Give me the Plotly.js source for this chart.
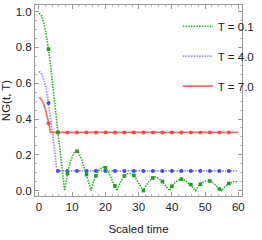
<!DOCTYPE html>
<html><head><meta charset="utf-8">
<script src="https://cdn.plot.ly/plotly-3.0.1.min.js"></script>
<style>html,body{margin:0;padding:0;background:#fff}#chart{width:262px;height:240px}</style>
</head><body><div id="chart"></div>
<script>
// Series names
const seriesNames = ["T = 0.1", "T = 4.0", "T = 7.0"];

// T = 0.1 curve
const greenT = [0,0.5,1,1.5,2,2.5,3,3.5,4,4.5,5,5.5,6,6.5,7,7.7,8,8.5,9,9.5,10,10.5,11,11.5,12,12.5,13,13.5,14,14.5,15,15.7,16,17,18,19,19.7,20,21,22,23,23.5,24,25,26,27,28,29,30,31,31.4,32,33,34,35,36,37,38,39,39.3,40,41,42,43,44,45,46,47,47.1,48,49,50,51,52,53,54,54.9,55,56,57,58,59,60];
const greenV = [0.99,0.985,0.97,0.935,0.89,0.835,0.77,0.70,0.61,0.53,0.445,0.36,0.275,0.19,0.11,0.0,0.03,0.09,0.13,0.165,0.19,0.21,0.218,0.22,0.21,0.19,0.165,0.135,0.105,0.07,0.04,0.0,0.025,0.078,0.114,0.13,0.132,0.128,0.10,0.062,0.02,0.0,0.026,0.064,0.088,0.097,0.092,0.072,0.042,0.01,0.0,0.022,0.05,0.068,0.075,0.07,0.054,0.03,0.006,0.0,0.024,0.046,0.06,0.064,0.058,0.042,0.022,0.002,0.0,0.026,0.043,0.053,0.056,0.05,0.034,0.014,0.0,0.003,0.024,0.038,0.047,0.05,0.049];

// T = 4.0 curve
const blueT = [0,0.5,1,1.5,2,2.5,3,3.5,4,4.5,5,5.4,60];
const blueV = [0.665,0.66,0.645,0.62,0.585,0.535,0.475,0.405,0.33,0.255,0.175,0.11,0.11];

// T = 7.0 curve
const redT = [0,0.5,1,1.5,2,2.5,3,3.45,60];
const redV = [0.52,0.515,0.5,0.48,0.45,0.415,0.37,0.325,0.325];

// Marker positions and values
const markT = [2.86,5.71,8.57,11.43,14.29,17.14,20.0,22.86,25.71,28.57,31.43,34.29,37.14,40.0,42.86,45.71,48.57,51.43,54.29,57.14];
const markGreen = [0.79,0.325,0.095,0.22,0.09,0.083,0.128,0.026,0.082,0.085,0.0,0.071,0.051,0.024,0.064,0.034,0.036,0.054,0.009,0.04];
const markBlue = [0.49,0.11,0.11,0.11,0.11,0.11,0.11,0.11,0.11,0.11,0.11,0.11,0.11,0.11,0.11,0.11,0.11,0.11,0.11,0.11];
const markRed = [0.376,0.325,0.325,0.325,0.325,0.325,0.325,0.325,0.325,0.325,0.325,0.325,0.325,0.325,0.325,0.325,0.325,0.325,0.325,0.325];

// Axis ticks
const xTicks = [0,10,20,30,40,50,60];
const yTicks = [0.0,0.2,0.4,0.6,0.8,1.0];
const yTickText = ["0.0","0.2","0.4","0.6","0.8","1.0"];

const cG = "rgb(40,180,40)", cB = "rgba(100,100,255,0.7)", cR = "rgba(255,70,70,0.8)";
const traces = [
  {x: blueT, y: blueV, mode: "lines", name: seriesNames[1], legendgroup: "b", legendrank: 2,
   line: {color: cB, width: 1.8, dash: "1.5px,1.2px"}},
  {x: markT, y: markBlue, mode: "markers", showlegend: false, legendgroup: "b",
   marker: {color: "rgb(70,70,255)", size: 4, symbol: "circle"}},
  {x: redT, y: redV, mode: "lines", name: seriesNames[2], legendgroup: "r", legendrank: 3,
   line: {color: cR, width: 1.7}},
  {x: markT, y: markRed, mode: "markers", showlegend: false, legendgroup: "r",
   marker: {color: "rgb(255,70,70)", size: 4, symbol: "circle"}},
  {x: greenT, y: greenV, mode: "lines", name: seriesNames[0], legendgroup: "g", legendrank: 1,
   line: {color: cG, width: 1.6, dash: "1.5px,1.2px"}},
  {x: markT, y: markGreen, mode: "markers", showlegend: false, legendgroup: "g",
   marker: {color: "rgb(30,160,30)", size: 3.6, symbol: "square"}}
];

const font = {family: "Liberation Sans, Arial, sans-serif", size: 11.5, color: "#222"};
const layout = {
  width: 262, height: 240,
  margin: {l: 35, r: 3, t: 5, b: 44},
  paper_bgcolor: "#fff", plot_bgcolor: "#fff",
  font: font,
  showlegend: true,
  legend: {x: 0.69, y: 0.965, xanchor: "left", yanchor: "top", bgcolor: "rgba(0,0,0,0)",
           font: font, tracegroupgap: 11, itemwidth: 30},
  xaxis: {range: [-1.2, 61.1], tickvals: xTicks, ticks: "inside", ticklen: 4, tickcolor: "#999",
          showline: true, linecolor: "#999", linewidth: 1, mirror: "ticks", showgrid: false, zeroline: false,
          minor: {dtick: 2, tick0: 0, ticks: "inside", ticklen: 2, tickcolor: "#bbb", showgrid: false},
          title: {text: "Scaled time", font: font, standoff: 13}, tickfont: font},
  yaxis: {range: [-0.03, 1.037], tickvals: yTicks, ticktext: yTickText, ticks: "inside", ticklen: 4, tickcolor: "#999",
          showline: true, linecolor: "#999", linewidth: 1, mirror: "ticks", showgrid: false, zeroline: false,
          minor: {dtick: 0.05, tick0: 0, ticks: "inside", ticklen: 2, tickcolor: "#bbb", showgrid: false},
          title: {text: "NG(t, T)", font: font, standoff: 3}, tickfont: font}
};
Plotly.newPlot("chart", traces, layout, {staticPlot: true, displayModeBar: false});
</script></body></html>
